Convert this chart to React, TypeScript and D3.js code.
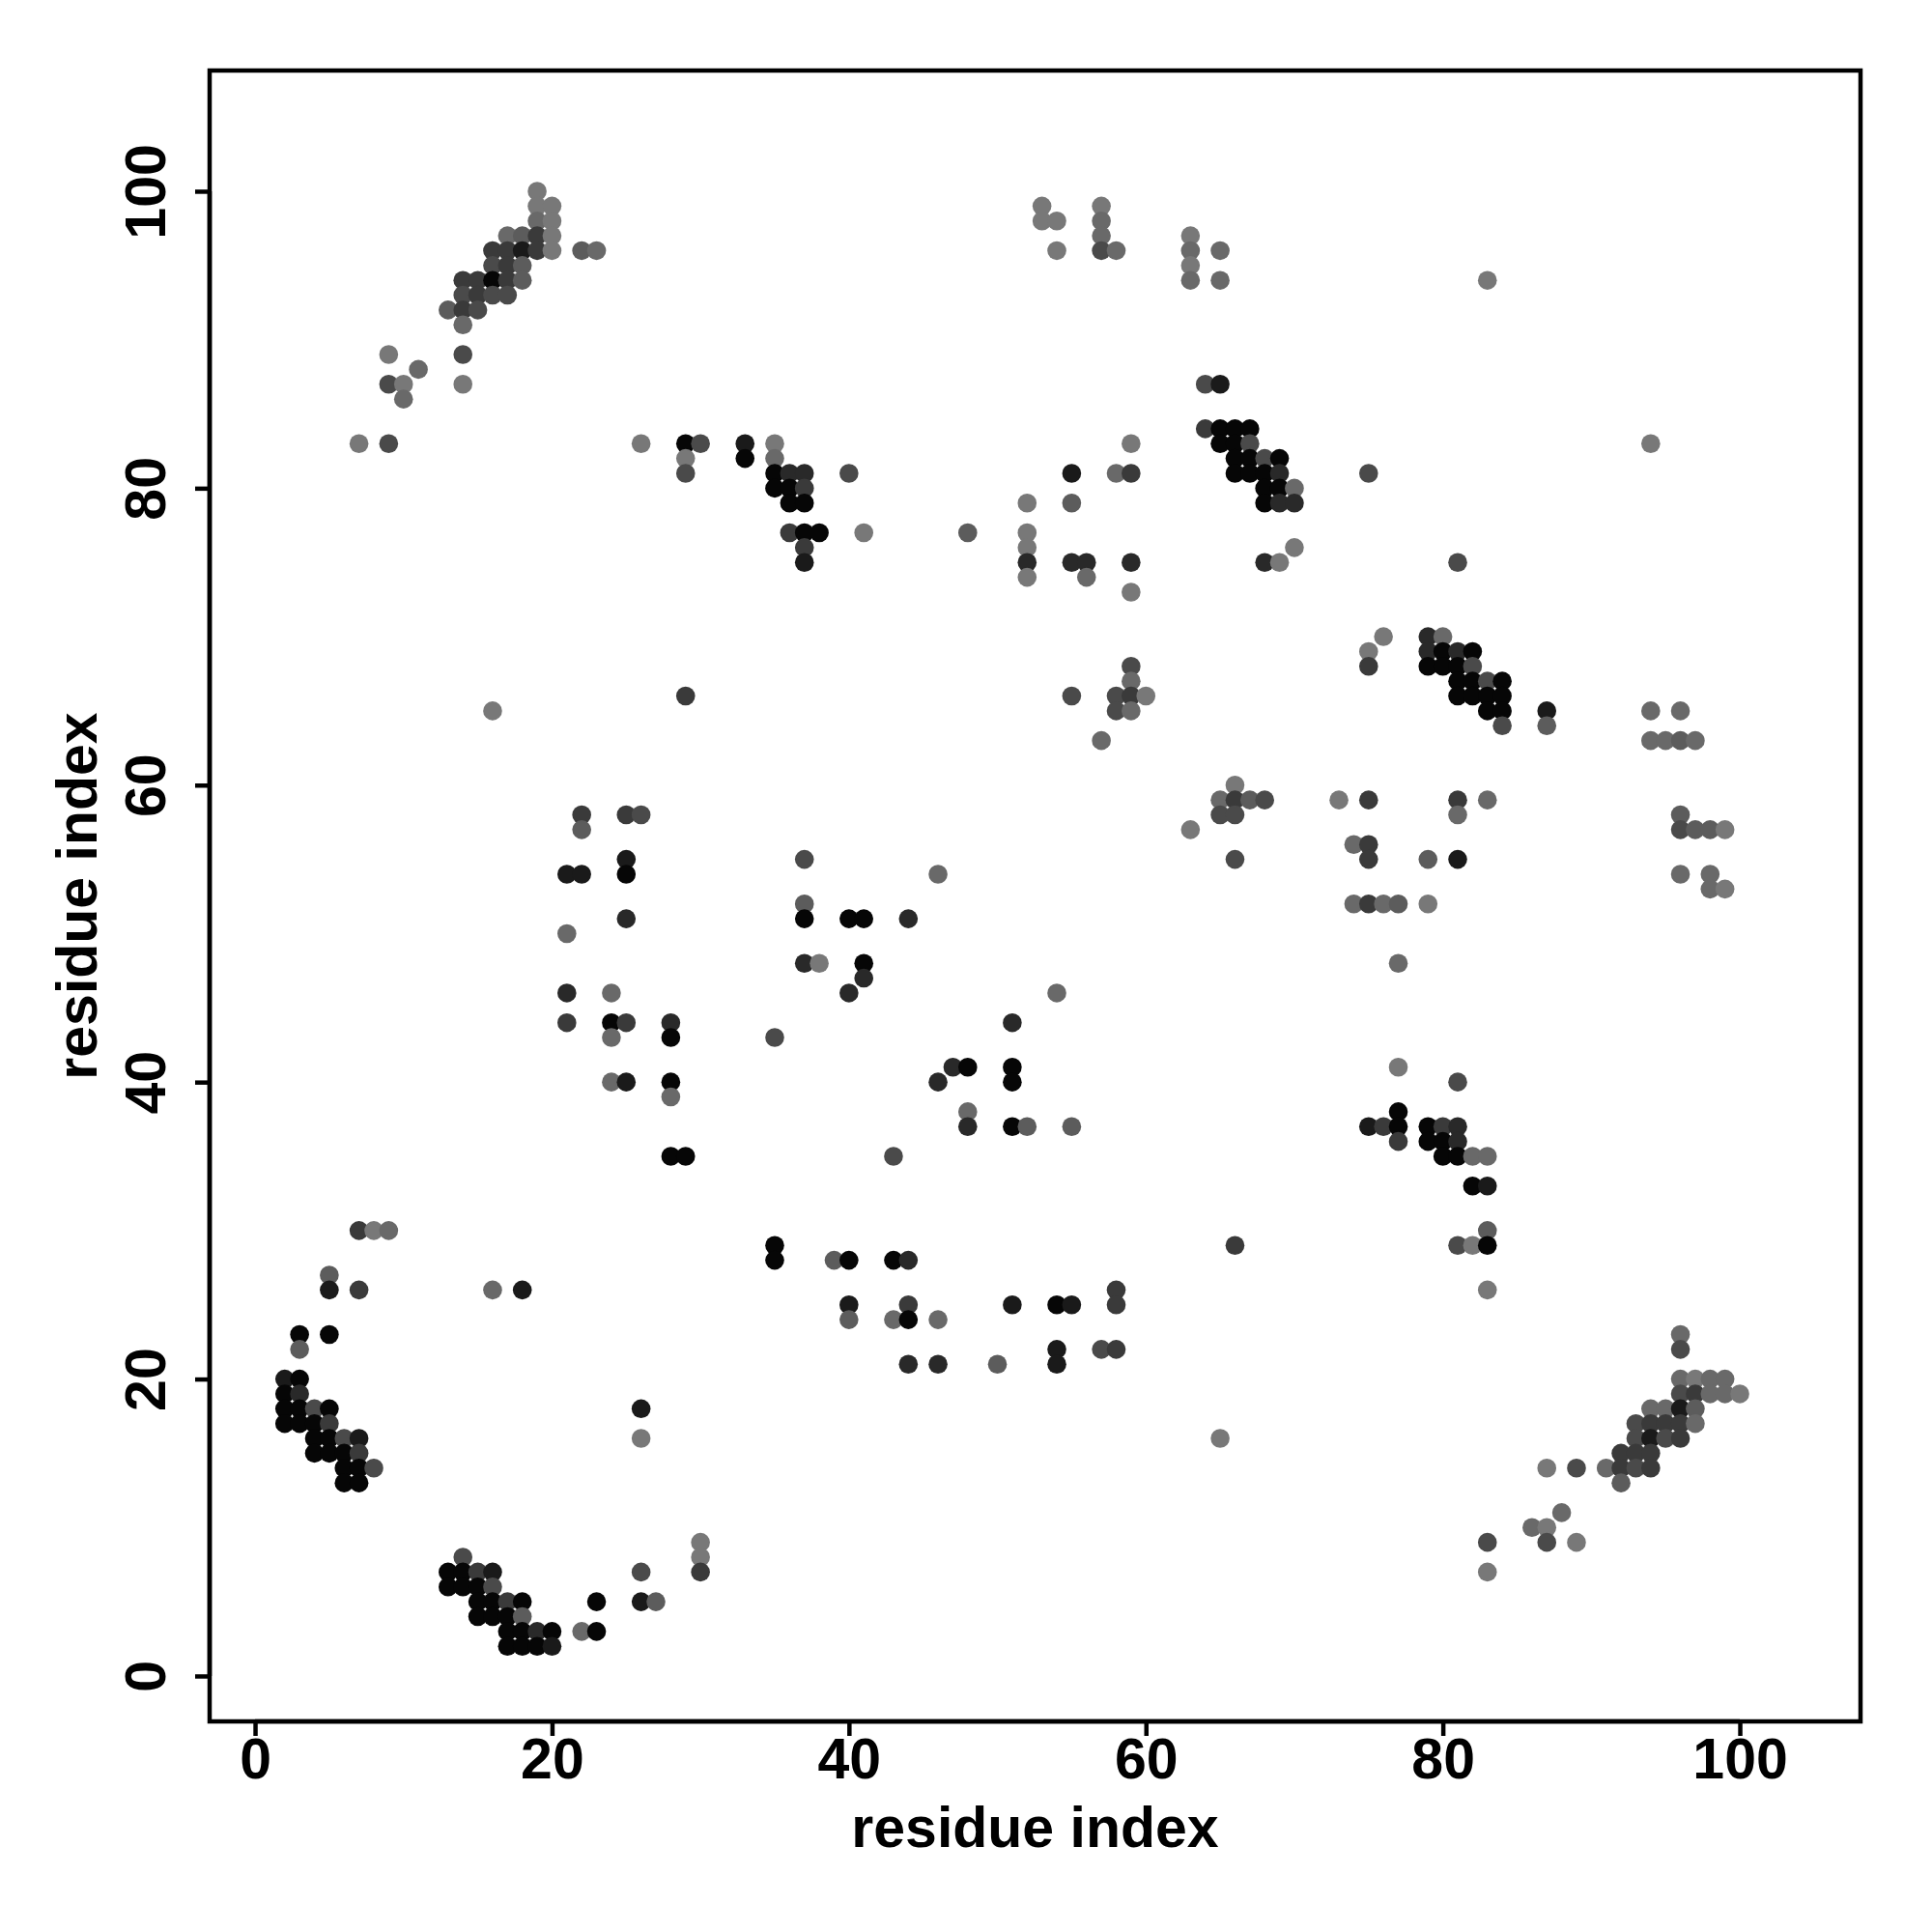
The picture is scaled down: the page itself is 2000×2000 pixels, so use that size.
import * as d3 from "d3";
import React, { useEffect, useRef } from "react";

// contacts as [residue i, residue j, score]; score drives the grey level
const topLeft: [number, number, number][] = [
  [19, 100, 0.06], [19, 99, 0.06], [20, 99, 0.06], [19, 98, 0.18], [20, 98, 0.06],
  [17, 97, 0.18], [18, 97, 0.28], [19, 97, 0.55], [20, 97, 0.06],
  [16, 96, 0.55], [17, 96, 0.55], [18, 96, 0.8], [19, 96, 0.55], [20, 96, 0.06], [22, 96, 0.28], [23, 96, 0.18],
  [16, 95, 0.42], [17, 95, 0.55], [18, 95, 0.28],
  [14, 94, 0.55], [15, 94, 0.55], [16, 94, 0.95], [17, 94, 0.55], [18, 94, 0.28],
  [14, 93, 0.42], [15, 93, 0.55], [16, 93, 0.42], [17, 93, 0.42],
  [13, 92, 0.28], [14, 92, 0.55], [15, 92, 0.42],
  [14, 91, 0.18], [9, 89, 0.06], [14, 89, 0.42], [11, 88, 0.18],
  [9, 87, 0.42], [10, 87, 0.06], [14, 87, 0.06], [10, 86, 0.18],
  [7, 83, 0.06], [9, 83, 0.42],
];

const upperMiddle: [number, number, number][] = [
  [26, 83, 0.06], [29, 83, 0.95], [30, 83, 0.42], [29, 82, 0.06], [29, 81, 0.42],
  [33, 83, 0.8], [33, 82, 0.95], [35, 83, 0.06], [35, 82, 0.18],
  [35, 81, 0.95], [36, 81, 0.68], [37, 81, 0.68], [35, 80, 0.95], [36, 80, 0.95], [37, 80, 0.55],
  [36, 79, 0.95], [37, 79, 0.95], [40, 81, 0.42],
  [36, 77, 0.55], [37, 77, 0.95], [38, 77, 0.95], [41, 77, 0.06], [37, 76, 0.55], [37, 75, 0.8],
  [48, 77, 0.28],
  [52, 79, 0.06], [52, 77, 0.06], [52, 76, 0.06], [52, 75, 0.68], [52, 74, 0.06],
  [55, 81, 0.8], [55, 79, 0.28], [55, 75, 0.68], [56, 75, 0.68], [56, 74, 0.18],
  [58, 81, 0.18], [59, 81, 0.55], [59, 83, 0.06], [59, 75, 0.68], [59, 73, 0.06],
];

const topMiddle: [number, number, number][] = [
  [53, 99, 0.06], [53, 98, 0.06], [54, 98, 0.06], [54, 96, 0.06],
  [57, 99, 0.06], [57, 98, 0.18], [57, 97, 0.18], [57, 96, 0.42], [58, 96, 0.18],
  [63, 97, 0.06], [63, 96, 0.18], [63, 95, 0.06], [63, 94, 0.18], [65, 96, 0.18], [65, 94, 0.18],
];

const upperRight: [number, number, number][] = [
  [64, 87, 0.42], [65, 87, 0.8],
  [64, 84, 0.55], [65, 84, 0.95], [66, 84, 0.95], [67, 84, 0.95],
  [65, 83, 0.95], [66, 83, 0.95], [67, 83, 0.42],
  [66, 82, 0.95], [67, 82, 0.95], [68, 82, 0.42], [69, 82, 0.95],
  [66, 81, 0.95], [67, 81, 0.95], [68, 81, 0.95], [69, 81, 0.68],
  [68, 80, 0.95], [69, 80, 0.95], [70, 80, 0.18],
  [68, 79, 0.95], [69, 79, 0.68], [70, 79, 0.68],
  [70, 76, 0.06], [68, 75, 0.68], [69, 75, 0.06],
  [75, 81, 0.42], [81, 75, 0.42], [83, 94, 0.06], [94, 83, 0.06],
];

const middleRight: [number, number, number][] = [
  [76, 70, 0.06], [75, 69, 0.06], [75, 68, 0.55],
  [79, 70, 0.68], [80, 70, 0.18],
  [79, 69, 0.68], [80, 69, 0.95], [81, 69, 0.68], [82, 69, 0.95],
  [79, 68, 0.95], [80, 68, 0.95], [81, 68, 0.95], [82, 68, 0.42],
  [81, 67, 0.95], [82, 67, 0.95], [83, 67, 0.42], [84, 67, 0.95],
  [81, 66, 0.95], [82, 66, 0.95], [83, 66, 0.95], [84, 66, 0.95],
  [83, 65, 0.95], [84, 65, 0.95], [87, 65, 0.8], [84, 64, 0.42], [87, 64, 0.28],
  [94, 65, 0.18], [96, 65, 0.18], [94, 63, 0.18], [95, 63, 0.18], [96, 63, 0.28], [97, 63, 0.18],
  [96, 58, 0.28], [96, 57, 0.42], [97, 57, 0.28], [98, 57, 0.28], [99, 57, 0.06],
  [96, 54, 0.18], [98, 54, 0.18], [98, 53, 0.18], [99, 53, 0.06],
];

const centerRight: [number, number, number][] = [
  [59, 68, 0.42], [59, 67, 0.18], [55, 66, 0.42], [58, 66, 0.42], [59, 66, 0.55], [60, 66, 0.06],
  [58, 65, 0.42], [59, 65, 0.18], [57, 63, 0.18],
  [66, 60, 0.06], [65, 59, 0.18], [66, 59, 0.55], [67, 59, 0.28], [68, 59, 0.42],
  [65, 58, 0.42], [66, 58, 0.42], [66, 55, 0.42], [63, 57, 0.06],
  [73, 59, 0.06], [75, 59, 0.55], [81, 59, 0.55], [83, 59, 0.18], [81, 58, 0.18],
  [74, 56, 0.18], [75, 56, 0.55], [75, 55, 0.55], [79, 55, 0.28], [81, 55, 0.8],
  [74, 52, 0.18], [75, 52, 0.55], [76, 52, 0.18], [77, 52, 0.28], [79, 52, 0.06],
];

const leftMiddle: [number, number, number][] = [
  [16, 65, 0.06], [29, 66, 0.55],
  [22, 58, 0.55], [22, 57, 0.28], [25, 58, 0.55], [26, 58, 0.42],
  [25, 55, 0.8], [25, 54, 0.95], [21, 54, 0.8], [22, 54, 0.8], [25, 51, 0.68], [21, 50, 0.18],
  [21, 46, 0.68], [24, 46, 0.18], [21, 44, 0.55], [24, 44, 0.95], [25, 44, 0.55], [24, 43, 0.18],
  [28, 44, 0.68], [28, 43, 0.95], [24, 40, 0.18], [25, 40, 0.8], [28, 40, 0.95], [28, 39, 0.18],
  [28, 35, 0.95], [29, 35, 0.95],
];

const center: [number, number, number][] = [
  [37, 55, 0.42], [46, 54, 0.18], [37, 52, 0.28], [37, 51, 0.95], [40, 51, 0.95], [41, 51, 0.95], [44, 51, 0.68],
  [37, 48, 0.68], [38, 48, 0.06], [41, 48, 0.95], [41, 47, 0.68], [40, 46, 0.68], [54, 46, 0.18],
  [35, 43, 0.42], [51, 44, 0.68], [47, 41, 0.68], [48, 41, 0.95], [51, 41, 0.95], [51, 40, 0.95], [46, 40, 0.68],
  [48, 38, 0.18], [48, 37, 0.68], [51, 37, 0.95], [52, 37, 0.28], [55, 37, 0.28], [43, 35, 0.42],
];

const lowerRight: [number, number, number][] = [
  [77, 48, 0.18], [77, 41, 0.06], [81, 40, 0.42], [77, 38, 0.95],
  [75, 37, 0.8], [76, 37, 0.55], [77, 37, 0.95], [79, 37, 0.95], [80, 37, 0.55], [81, 37, 0.68],
  [77, 36, 0.55], [79, 36, 0.95], [80, 36, 0.95], [81, 36, 0.68],
  [80, 35, 0.95], [81, 35, 0.95], [82, 35, 0.18], [83, 35, 0.18],
  [82, 33, 0.95], [83, 33, 0.8], [83, 30, 0.28], [81, 29, 0.42], [82, 29, 0.06], [83, 29, 0.95],
  [66, 29, 0.55], [83, 26, 0.06],
];

const bottomMiddle: [number, number, number][] = [
  [35, 29, 0.95], [35, 28, 0.95], [39, 28, 0.28], [40, 28, 0.95], [43, 28, 0.95], [44, 28, 0.68],
  [40, 25, 0.8], [44, 25, 0.55], [51, 25, 0.8], [54, 25, 0.95], [55, 25, 0.8], [58, 26, 0.55], [58, 25, 0.55],
  [40, 24, 0.28], [43, 24, 0.18], [44, 24, 0.95], [46, 24, 0.18],
  [54, 22, 0.8], [57, 22, 0.42], [58, 22, 0.55],
  [44, 21, 0.68], [46, 21, 0.68], [50, 21, 0.28], [54, 21, 0.8], [65, 16, 0.06],
];

const bottomLeft: [number, number, number][] = [
  [7, 30, 0.55], [8, 30, 0.06], [9, 30, 0.18], [5, 27, 0.28], [5, 26, 0.8], [7, 26, 0.55], [16, 26, 0.18], [18, 26, 0.8],
  [3, 23, 0.95], [5, 23, 0.95], [3, 22, 0.28],
  [2, 20, 0.8], [3, 20, 0.95], [2, 19, 0.95], [3, 19, 0.68],
  [2, 18, 0.95], [3, 18, 0.95], [4, 18, 0.42], [5, 18, 0.95],
  [2, 17, 0.95], [3, 17, 0.95], [4, 17, 0.95], [5, 17, 0.55],
  [4, 16, 0.95], [5, 16, 0.95], [6, 16, 0.42], [7, 16, 0.8],
  [4, 15, 0.95], [5, 15, 0.95], [6, 15, 0.95], [7, 15, 0.55],
  [6, 14, 0.95], [7, 14, 0.95], [8, 14, 0.42], [6, 13, 0.95], [7, 13, 0.95],
  [26, 18, 0.8], [26, 16, 0.06],
];

const bottom: [number, number, number][] = [
  [14, 8, 0.42], [13, 7, 0.95], [14, 7, 0.95], [15, 7, 0.55], [16, 7, 0.8],
  [13, 6, 0.95], [14, 6, 0.95], [15, 6, 0.95], [16, 6, 0.42],
  [15, 5, 0.95], [16, 5, 0.95], [17, 5, 0.55], [18, 5, 0.95],
  [15, 4, 0.95], [16, 4, 0.95], [17, 4, 0.95], [18, 4, 0.28],
  [17, 3, 0.95], [18, 3, 0.95], [19, 3, 0.68], [20, 3, 0.95], [22, 3, 0.18], [23, 3, 0.95],
  [17, 2, 0.95], [18, 2, 0.95], [19, 2, 0.95], [20, 2, 0.8],
  [23, 5, 0.95], [26, 7, 0.42], [26, 5, 0.8], [27, 5, 0.28], [30, 9, 0.06], [30, 8, 0.06], [30, 7, 0.55],
];

const bottomRight: [number, number, number][] = [
  [96, 23, 0.18], [96, 22, 0.42],
  [96, 20, 0.18], [97, 20, 0.06], [98, 20, 0.18], [99, 20, 0.18],
  [96, 19, 0.42], [97, 19, 0.55], [98, 19, 0.18], [99, 19, 0.18], [100, 19, 0.06],
  [94, 18, 0.18], [95, 18, 0.18], [96, 18, 0.8], [97, 18, 0.28],
  [93, 17, 0.42], [94, 17, 0.55], [95, 17, 0.55], [96, 17, 0.55], [97, 17, 0.18],
  [93, 16, 0.42], [94, 16, 0.8], [95, 16, 0.42], [96, 16, 0.55],
  [92, 15, 0.55], [93, 15, 0.55], [94, 15, 0.55],
  [87, 14, 0.06], [89, 14, 0.42], [91, 14, 0.18], [92, 14, 0.55], [93, 14, 0.42], [94, 14, 0.55],
  [92, 13, 0.28], [88, 11, 0.18], [86, 10, 0.18], [87, 10, 0.06],
  [83, 9, 0.42], [87, 9, 0.42], [89, 9, 0.06], [83, 7, 0.06],
];

const ticks = [0, 20, 40, 60, 80, 100];
const axisTitle = "residue index";

export default function App() {
  const ref = useRef<SVGSVGElement>(null);

  useEffect(() => {
    const svg = d3.select(ref.current);
    svg.selectAll("*").remove();

    const font = "'Liberation Sans', Arial, Helvetica, sans-serif";
    const left = 217, right = 1926, top = 73, bottomY = 1782;
    const lo = -3.06, hi = 108.13;

    const x = d3.scaleLinear().domain([lo, hi]).range([left, right]);
    const y = d3.scaleLinear().domain([lo, hi]).range([bottomY, top]);
    const grey = d3.scaleLinear<string>().domain([0, 1]).range(["#808080", "#000000"]);

    const data = [
      ...bottomLeft, ...bottom, ...leftMiddle, ...topLeft, ...upperMiddle, ...topMiddle,
      ...center, ...bottomMiddle, ...centerRight, ...upperRight, ...middleRight,
      ...lowerRight, ...bottomRight,
    ];

    svg
      .append("g")
      .selectAll("circle")
      .data(data)
      .join("circle")
      .attr("cx", (d) => x(d[0]))
      .attr("cy", (d) => y(d[1]))
      .attr("r", 9.8)
      .attr("fill", (d) => grey(d[2]));

    // box
    svg
      .append("rect")
      .attr("x", left)
      .attr("y", top)
      .attr("width", right - left)
      .attr("height", bottomY - top)
      .attr("fill", "none")
      .attr("stroke", "#000")
      .attr("stroke-width", 4.5);

    // x axis
    const gx = svg.append("g").attr("transform", `translate(0,${bottomY})`);
    gx.call(d3.axisBottom(x).tickValues(ticks).tickSize(15).tickSizeOuter(0).tickFormat(d3.format("d")));
    gx.select(".domain")
      .attr("d", `M${x(0)},0H${x(100)}`)
      .attr("stroke-width", 4.5);
    gx.selectAll(".tick line").attr("stroke-width", 4.5);
    gx.selectAll(".tick text")
      .attr("y", 59)
      .attr("dy", 0)
      .attr("font-family", font)
      .attr("font-weight", "bold")
      .attr("font-size", 59)
      .attr("fill", "#000");

    // y axis
    const gy = svg.append("g").attr("transform", `translate(${left},0)`);
    gy.call(d3.axisLeft(y).tickValues(ticks).tickSize(15).tickSizeOuter(0).tickFormat(d3.format("d")));
    gy.select(".domain")
      .attr("d", `M0,${y(0)}V${y(100)}`)
      .attr("stroke-width", 4.5);
    gy.selectAll(".tick line").attr("stroke-width", 4.5);
    gy.selectAll(".tick text")
      .attr("x", 0)
      .attr("dy", 0)
      .attr("transform", `translate(${171 - left},0) rotate(-90)`)
      .attr("text-anchor", "middle")
      .attr("font-family", font)
      .attr("font-weight", "bold")
      .attr("font-size", 59)
      .attr("fill", "#000");

    svg
      .append("text")
      .attr("x", (left + right) / 2)
      .attr("y", 1912)
      .attr("text-anchor", "middle")
      .attr("font-family", font)
      .attr("font-weight", "bold")
      .attr("font-size", 59)
      .text(axisTitle);

    svg
      .append("text")
      .attr("transform", `translate(100,${(top + bottomY) / 2}) rotate(-90)`)
      .attr("text-anchor", "middle")
      .attr("font-family", font)
      .attr("font-weight", "bold")
      .attr("font-size", 59)
      .text(axisTitle);
  }, []);

  return (
    <svg
      ref={ref}
      width={2000}
      height={2000}
      style={{ position: "absolute", left: 0, top: 0, background: "#fff" }}
    />
  );
}
